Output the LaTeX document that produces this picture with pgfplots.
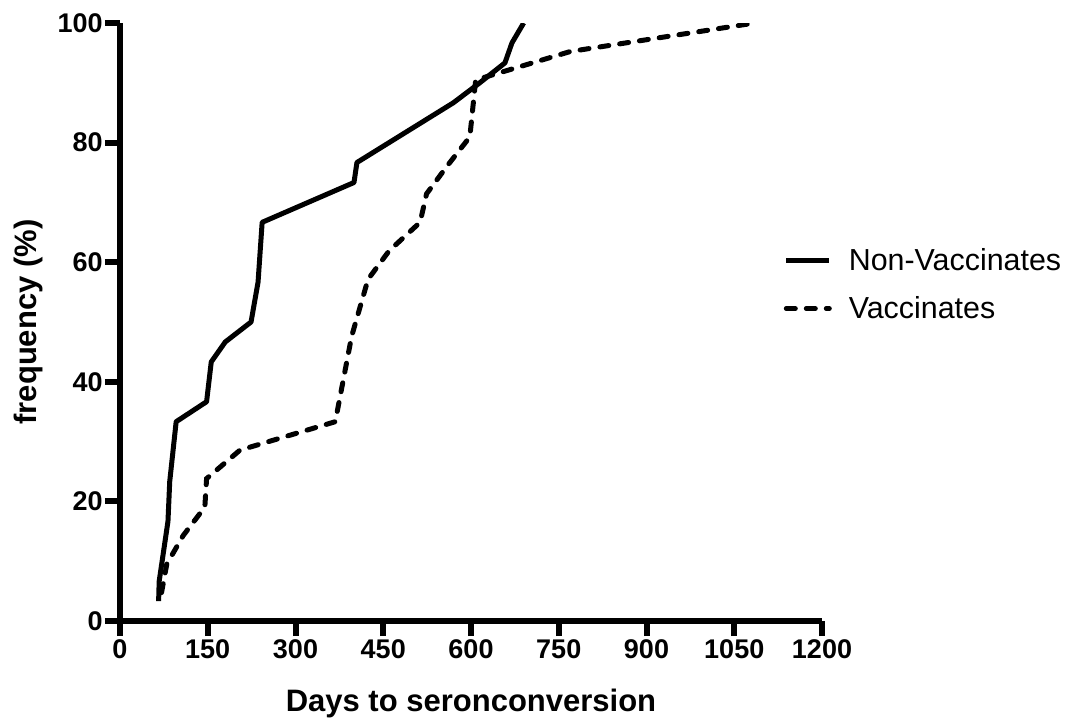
\documentclass[border=0pt]{standalone}
\usepackage{pgfplots}
\pgfplotsset{compat=1.18}
\usepackage{fontspec}
\setmainfont{Liberation Sans}

\begin{document}
\begin{tikzpicture}
\useasboundingbox (-60pt,-49pt) rectangle (485pt,310.5pt);
\begin{axis}[
    at={(0,0)}, anchor=south west,
    scale only axis,
    width=351pt, height=299pt,
    xmin=0, xmax=1200, ymin=0, ymax=100,
    xtick={0,150,...,1200},
    ytick={0,20,...,100},
    axis x line=bottom, axis y line=left,
    axis line style={-, line width=3pt},
    tick align=outside,
    major tick length=7.5pt,
    tick style={line width=3pt, black},
    /pgf/number format/assume math mode=true,
    /pgf/number format/1000 sep={},
    ticklabel style={font=\fontsize{13.5}{15}\selectfont\bfseries},
    xticklabel style={inner sep=1.5pt},
    yticklabel style={inner sep=1pt},
    xlabel={Days to seronconversion},
    ylabel={frequency (\%)},
    label style={font=\fontsize{15.5}{18}\selectfont\bfseries},
    xlabel style={at={(rel axis cs:0.5,0)}, anchor=base, yshift=-45pt},
    ylabel style={at={(rel axis cs:0,0.5)}, anchor=base, yshift=41.5pt},
    legend style={at={(rel axis cs:0.945,0.631)}, anchor=north west,
        draw=none, fill=none, inner sep=0pt,
        font=\fontsize{15.2}{18}\selectfont,
        row sep=7.5pt, column sep=6.5pt},
    legend cell align=left,
    legend image code/.code={\draw[#1] (0pt,0pt) -- (21.5pt,0pt);},
]
\addplot[black, line width=2.5pt, line join=round] coordinates {
    (66,3.33) (67,6.67) (77,13.33) (82,16.67) (85,23.33) (96,33.33)
    (148,36.67) (156,43.33) (180,46.67) (224,50.00) (236,56.67)
    (243,66.67) (400,73.33) (405,76.67) (570,86.67) (615,90.00)
    (658,93.33) (670,96.67) (690,100)
};
\addlegendentry{Non-Vaccinates}
\addplot[black, line width=2.5pt, line cap=round, dash pattern=on 4.5pt off 5.5pt] coordinates {
    (71,4.76) (80,9.52) (108,14.29) (145,19.05) (148,23.81) (205,28.57)
    (368,33.33) (396,47.62) (424,57.14) (460,61.90) (513,66.67)
    (524,71.43) (560,76.19) (598,80.95) (608,90.48) (770,95.24)
    (1085,100)
};
\addlegendentry{Vaccinates}
\end{axis}
\end{tikzpicture}
\end{document}
